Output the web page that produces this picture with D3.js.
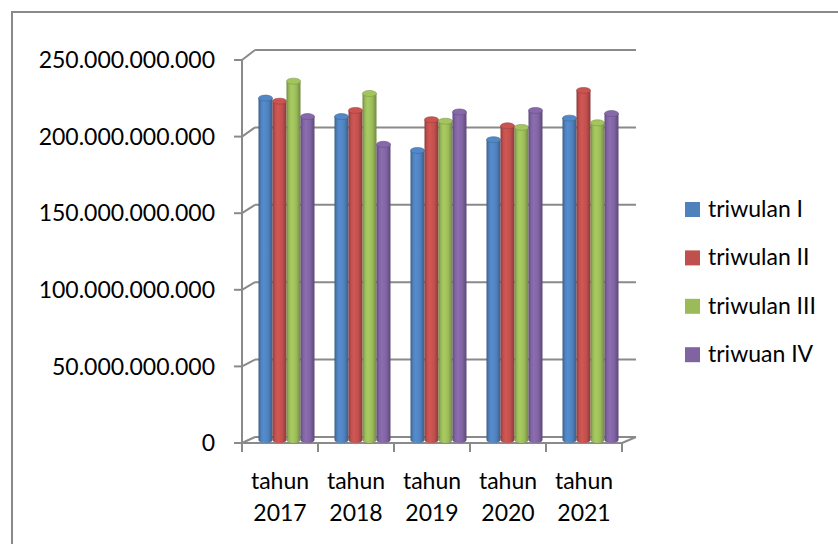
<!DOCTYPE html>
<html>
<head>
<meta charset="utf-8">
<script src="https://cdn.jsdelivr.net/npm/d3@7"></script>
<style>
  body { margin: 0; background: #fff; }
  svg { display: block; font-family: Lato, "Open Sans", sans-serif; }
</style>
</head>
<body>
<svg id="chart"></svg>
<script>
// 3D-look clustered columns: four quarters per year

const width = 838;
const height = 544;

const years = ["2017", "2018", "2019", "2020", "2021"];
const seriesNames = ["triwulan I", "triwulan II", "triwulan III", "triwuan IV"];
const seriesColors = ["#4F81BD", "#C0504D", "#9BBB59", "#8064A2"];
const tickValues = [0, 50e9, 100e9, 150e9, 200e9, 250e9];

const triwulan1 = [222e9, 210e9, 188e9, 195e9, 209e9];
const triwulan2 = [220e9, 214e9, 208e9, 204e9, 227e9];
const triwulan3 = [233e9, 225e9, 207e9, 203e9, 206e9];
const triwulan4 = [210e9, 192e9, 213e9, 214e9, 212e9];
const seriesValues = [triwulan1, triwulan2, triwulan3, triwulan4];

const svg = d3.select("#chart")
    .attr("width", width)
    .attr("height", height);

// outer chart frame (runs past the right/bottom edge)
svg.append("rect")
    .attr("x", 12).attr("y", 12)
    .attr("width", 900).attr("height", 600)
    .attr("fill", "none")
    .attr("stroke", "#8a8a8a")
    .attr("stroke-width", 2);

// depth offsets: front plane, back wall, bars in between
const depthX = 13;
const yFront = d3.scaleLinear().domain([0, 250e9]).range([443, 60]);
const yBack = d3.scaleLinear().domain([0, 250e9]).range([437, 50]);
const yMid = d3.scaleLinear().domain([0, 250e9]).range([440, 55]);

const x = d3.scaleBand().domain(years).range([242, 622]).padding(0);
const xInner = d3.scaleBand().domain(seriesNames).range([0, 56]).padding(0);
const groupShift = (x.bandwidth() - 56) / 2 + depthX / 2;

const gridColor = "#8a8a8a";
const grid = svg.append("g")
    .attr("stroke", gridColor)
    .attr("stroke-width", 2)
    .attr("fill", "none");

const xLeft = x.range()[0];
const xRight = x.range()[1];

// back wall gridlines + the oblique connectors at the value axis
tickValues.forEach(t => {
    grid.append("line")
        .attr("x1", xLeft + depthX).attr("y1", yBack(t))
        .attr("x2", xRight + depthX + 1).attr("y2", yBack(t));
    grid.append("line")
        .attr("x1", xLeft).attr("y1", yFront(t))
        .attr("x2", xLeft + depthX).attr("y2", yBack(t));
    grid.append("line")
        .attr("x1", xLeft - 8).attr("y1", yFront(t))
        .attr("x2", xLeft).attr("y2", yFront(t));
});

// value axis line
grid.append("line")
    .attr("x1", xLeft).attr("y1", yFront(250e9))
    .attr("x2", xLeft).attr("y2", yFront(0));

// floor front edge, right edge and category ticks
grid.append("line")
    .attr("x1", xLeft).attr("y1", yFront(0))
    .attr("x2", xRight).attr("y2", yFront(0));
grid.append("line")
    .attr("x1", xRight).attr("y1", yFront(0))
    .attr("x2", xRight + depthX + 1).attr("y2", yBack(0));

const boundaries = years.map(d => x(d)).concat([xRight]);
boundaries.forEach(bx => {
    grid.append("line")
        .attr("x1", bx).attr("y1", yFront(0))
        .attr("x2", bx).attr("y2", yFront(0) + 9);
});

// cylinder shading
const defs = svg.append("defs");
seriesColors.forEach((c, i) => {
    const base = d3.color(c);
    const g = defs.append("linearGradient")
        .attr("id", "cyl" + i)
        .attr("x1", "0%").attr("x2", "100%")
        .attr("y1", "0%").attr("y2", "0%");
    g.append("stop").attr("offset", "0%").attr("stop-color", base.darker(0.9));
    g.append("stop").attr("offset", "18%").attr("stop-color", base);
    g.append("stop").attr("offset", "38%").attr("stop-color", base.brighter(0.25));
    g.append("stop").attr("offset", "70%").attr("stop-color", base);
    g.append("stop").attr("offset", "100%").attr("stop-color", base.darker(0.9));
});

const fmt = d3.formatLocale({
    decimal: ",", thousands: ".", grouping: [3], currency: ["Rp", ""]
}).format(",d");

const rows = [];
seriesValues.forEach((vals, si) => {
    vals.forEach((v, yi) => {
        rows.push({ series: seriesNames[si], si: si, year: years[yi], value: v });
    });
});

const rx = xInner.bandwidth() / 2;
const ry = 3;

const bars = svg.append("g").selectAll("g")
    .data(rows)
    .enter().append("g")
    .attr("transform", d => `translate(${x(d.year) + groupShift + xInner(d.series)},0)`);

bars.append("path")
    .attr("fill", d => `url(#cyl${d.si})`)
    .attr("d", d => {
        const top = yMid(d.value);
        const bottom = yMid(0);
        const w = xInner.bandwidth();
        return `M0,${top} L0,${bottom} A${rx},${ry} 0 0 0 ${w},${bottom} L${w},${top} Z`;
    });

bars.append("ellipse")
    .attr("cx", rx)
    .attr("cy", d => yMid(d.value))
    .attr("rx", rx)
    .attr("ry", ry)
    .attr("fill", d => d3.color(seriesColors[d.si]).brighter(0.15))
    .attr("stroke", d => d3.color(seriesColors[d.si]).darker(0.6))
    .attr("stroke-width", 0.6);

// value labels
svg.append("g").selectAll("text")
    .data(tickValues)
    .enter().append("text")
    .attr("x", 215)
    .attr("y", d => yFront(d))
    .attr("dy", "0.36em")
    .attr("text-anchor", "end")
    .attr("font-size", "23px")
    .attr("fill", "#000")
    .text(d => fmt(d));

// category labels on two lines
const catLabels = svg.append("g").selectAll("text")
    .data(years)
    .enter().append("text")
    .attr("text-anchor", "middle")
    .attr("font-size", "23px")
    .attr("fill", "#000");

catLabels.append("tspan")
    .attr("x", d => x(d) + x.bandwidth() / 2)
    .attr("y", 489)
    .text("tahun");
catLabels.append("tspan")
    .attr("x", d => x(d) + x.bandwidth() / 2)
    .attr("y", 521)
    .text(d => d);

// legend
const legend = svg.append("g").selectAll("g")
    .data(seriesNames)
    .enter().append("g")
    .attr("transform", (d, i) => `translate(685,${202 + i * 48.4})`);

legend.append("rect")
    .attr("width", 15).attr("height", 15)
    .attr("fill", (d, i) => seriesColors[i]);

legend.append("text")
    .attr("x", 23)
    .attr("y", 15)
    .attr("font-size", "23px")
    .attr("fill", "#000")
    .text(d => d);
</script>
</body>
</html>
